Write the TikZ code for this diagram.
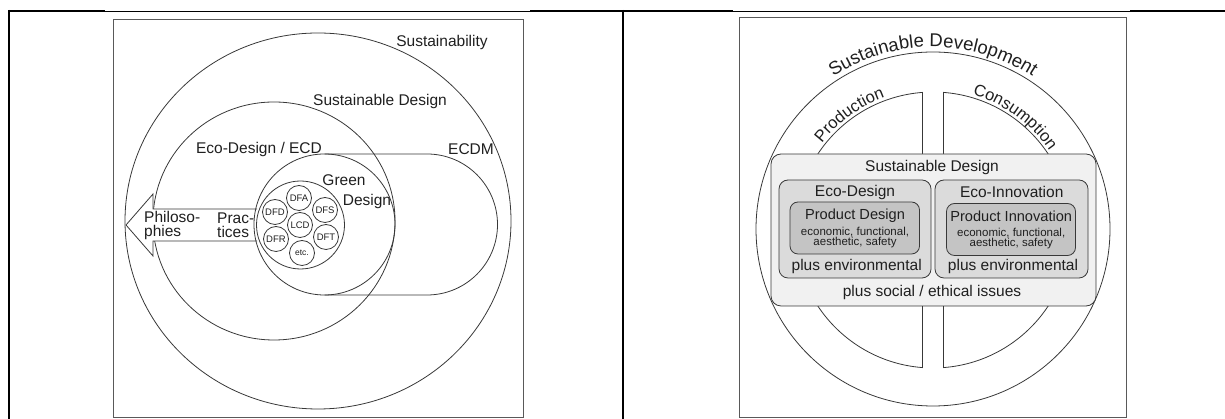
\documentclass[tikz,border=0pt]{standalone}
\usepackage{fontspec}
\setmainfont{Liberation Sans}
\usetikzlibrary{decorations.text}
\definecolor{rimgray}{gray}{0.22}
\definecolor{framegray}{gray}{0.35}
\definecolor{txtgray}{gray}{0.12}
\definecolor{outerbox}{gray}{0.945}
\definecolor{midbox}{gray}{0.86}
\definecolor{innerbox}{gray}{0.77}
\newcommand{\sizept}[2]{\fontsize{#1}{#2}\selectfont}
\tikzset{
  ring/.style={draw=rimgray, line width=0.8pt},
  frame/.style={draw=framegray, line width=0.9pt},
  biglbl/.style={font=\sizept{15.5}{14}, text=txtgray},
  dflbl/.style={font=\sizept{9.5}{10}, text=txtgray},
  prodlbl/.style={font=\sizept{14.6}{16}, text=txtgray},
  smalllbl/.style={font=\sizept{11.5}{12}, text=txtgray}
}
\begin{document}
\begin{tikzpicture}[x=1pt,y=1pt]
\tikzstyle{every node}+=[inner sep=0pt]
\useasboundingbox (0,0) rectangle (1225,419);
% table rules
\draw [black, line width=2pt] (8,408) -- (105,408);
\draw [black, line width=0.8pt] (105,408) -- (530,408);
\draw [black, line width=2pt] (530,408) -- (733,408);
\draw [black, line width=0.8pt] (733,408) -- (1130,408);
\draw [black, line width=2pt] (1130,408) -- (1225,408);
\draw [black, line width=2pt] (9,409) -- (9,0);
\draw [black, line width=2pt] (623,409) -- (623,0);
% left panel
\draw [frame] (113.5,2) rectangle (523,400);
\draw [ring] (318,198) ellipse (193 and 188);
\draw [ring] (274,198) ellipse (121 and 119);
\draw [ring, fill=white] (257,210) -- (153,210) -- (153,225) -- (126,194) -- (153,163) -- (153,178) -- (257,178);
\draw [ring] (324.5,194.5) circle (70.5);
\draw [ring] (324.5,265) -- (427,265) arc (90:-90:70.5) -- (324.5,124);
\draw [ring] (300.5,194) circle (44);
\draw [ring] (299,221) circle (12.5);
\draw (299,221) node [dflbl] (dfa) {DFA};
\draw [ring] (275,207) circle (12.5);
\draw (275,207) node [dflbl] (dfd) {DFD};
\draw [ring] (325,209) circle (12.5);
\draw (325,209) node [dflbl] (dfs) {DFS};
\draw [ring] (300,194) circle (12.5);
\draw (300,194) node [dflbl] (lcd) {LCD};
\draw [ring] (276,180) circle (12.5);
\draw (276,180) node [dflbl] (dfr) {DFR};
\draw [ring] (326,182) circle (12.5);
\draw (326,182) node [dflbl] (dft) {DFT};
\draw [ring] (302,166) circle (12.5);
\draw (302,166) node [dflbl, font=\sizept{8.5}{9}] (etc) {etc.};
\draw (442,376) node [biglbl] (sustlbl) {Sustainability};
\draw (380,317) node [biglbl] (sdlbl) {Sustainable Design};
\draw (259,270) node [biglbl] (ecdlbl) {Eco-Design / ECD};
\draw (471,270) node [biglbl] (ecdmlbl) {ECDM};
\draw (344,239) node [biglbl] (greenlbl) {Green};
\draw (367,218) node [biglbl] (gdlbl) {Design};
\draw (144,194) node [biglbl, anchor=west, align=left] (philo) {Philoso-\\phies};
\draw (217,194) node [biglbl, anchor=west, align=left] (prac) {Prac-\\tices};
% right panel
\draw [frame] (739,2) rectangle (1126,402);
\draw [ring] (933,190) circle (177);
\draw [ring, fill=white] ([shift={(94.36:138)}]933,189) arc (94.36:265.64:138) -- cycle;
\draw [ring, fill=white] ([shift={(85.64:138)}]933,189) arc (85.64:-85.64:138) -- cycle;
\path [decorate, decoration={text along path, text align=center, text color=txtgray,
  text={|\sizept{18.5}{20}|Sustainable Development}}] ([shift={(160:182)}]933,190) arc (160:20:182);
\path [decorate, decoration={text along path, text align=center, text color=txtgray,
  text={|\sizept{16.5}{18}|Production}}] ([shift={(160:141)}]933,189) arc (160:92:141);
\path [decorate, decoration={text along path, text align=center, text color=txtgray,
  text={|\sizept{16.5}{18}|Consumption}}] ([shift={(88:141)}]933,189) arc (88:20:141);
\draw [ring, fill=outerbox, rounded corners=10] (771,113) rectangle (1096,265);
\draw [ring, fill=midbox, rounded corners=9] (779,141) rectangle (931,239);
\draw [ring, fill=midbox, rounded corners=9] (935,141) rectangle (1088,239);
\draw [ring, fill=innerbox, rounded corners=8] (790,165) rectangle (919.5,217);
\draw [ring, fill=innerbox, rounded corners=8] (946.5,163.5) rectangle (1075.5,215.5);
\draw (932,251.7) node [biglbl] (sdes) {Sustainable Design};
\draw (855,227) node [biglbl] (ecodes) {Eco-Design};
\draw (1011.7,227) node [biglbl] (ecoinn) {Eco-Innovation};
\draw (855,203.3) node [prodlbl] (proddes) {Product Design};
\draw (855,187.3) node [smalllbl] (econa) {economic, functional,};
\draw (855,176.7) node [smalllbl] (aesta) {aesthetic, safety};
\draw (1011.2,202.3) node [prodlbl] (prodinn) {Product Innovation};
\draw (1011.2,186.3) node [smalllbl] (econb) {economic, functional,};
\draw (1011.2,175.2) node [smalllbl] (aestb) {aesthetic, safety};
\draw (856.7,152.3) node [biglbl] (envira) {plus environmental};
\draw (1013,152.3) node [biglbl] (envirb) {plus environmental};
\draw (932,126.3) node [biglbl] (social) {plus social / ethical issues};
\end{tikzpicture}
\end{document}
